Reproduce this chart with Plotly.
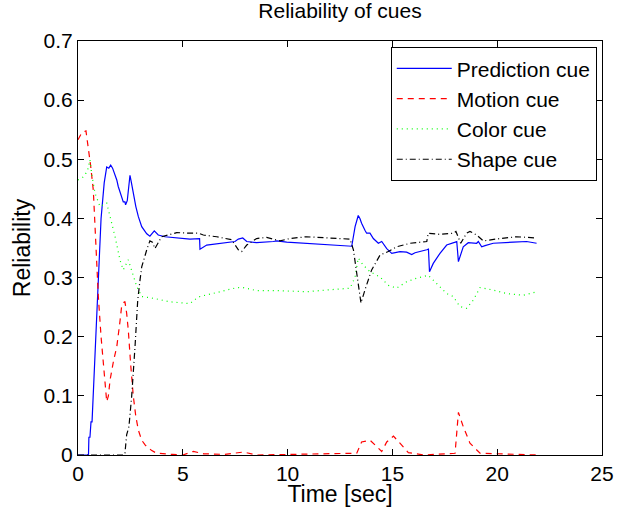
import plotly.graph_objects as go

# Prediction cue
pred_t = [0, 0.5, 0.52, 0.57, 0.62, 0.67, 0.75, 0.95, 1.1, 1.25, 1.37, 1.47, 1.56, 1.65, 1.75, 1.85, 1.92, 2.0, 2.08, 2.16, 2.24, 2.27, 2.35, 2.43, 2.48, 2.55, 2.64, 2.76, 2.88, 3.04, 3.28, 3.43, 3.64, 3.83, 4.15, 4.63, 5.34, 5.8, 5.82, 6.14, 6.77, 7.49, 7.65, 7.86, 8.05, 8.52, 9.32, 9.48, 9.96, 10.9, 11.39, 13.06, 13.22, 13.37, 13.45, 13.53, 13.69, 13.77, 13.93, 14.09, 14.33, 14.49, 14.73, 14.97, 15.36, 15.68, 15.92, 16.08, 16.64, 16.72, 16.77, 16.95, 17.27, 17.59, 18.0, 18.07, 18.15, 18.38, 18.62, 19.02, 19.1, 19.26, 19.42, 19.81, 20.77, 21.4, 21.88]
pred_v = [0, 0, 0.03, 0.03, 0.056, 0.056, 0.12, 0.29, 0.40, 0.46, 0.487, 0.485, 0.49, 0.485, 0.475, 0.465, 0.454, 0.445, 0.434, 0.428, 0.428, 0.423, 0.43, 0.455, 0.473, 0.46, 0.442, 0.42, 0.403, 0.386, 0.374, 0.370, 0.379, 0.372, 0.369, 0.367, 0.365, 0.366, 0.348, 0.355, 0.358, 0.361, 0.365, 0.367, 0.361, 0.359, 0.361, 0.362, 0.360, 0.358, 0.356, 0.353, 0.386, 0.405, 0.400, 0.392, 0.380, 0.375, 0.375, 0.366, 0.358, 0.361, 0.349, 0.341, 0.344, 0.343, 0.339, 0.342, 0.347, 0.348, 0.310, 0.324, 0.341, 0.355, 0.360, 0.361, 0.327, 0.352, 0.359, 0.358, 0.361, 0.352, 0.354, 0.358, 0.360, 0.361, 0.358]

# Motion cue
motion_t = [0, 0.18, 0.38, 0.49, 0.6, 0.73, 0.85, 0.97, 1.1, 1.21, 1.3, 1.37, 1.45, 1.53, 1.7, 1.85, 2.0, 2.08, 2.21, 2.24, 2.32, 2.40, 2.52, 2.64, 2.76, 2.88, 3.04, 3.2, 3.5, 3.75, 4.5, 5.0, 5.5, 6.0, 7.0, 7.9, 8.5, 13.3, 13.53, 13.93, 14.2, 14.49, 14.73, 15.05, 15.36, 15.76, 16.5, 17.99, 18.15, 18.38, 18.7, 19.18, 21.9]
motion_v = [0.533, 0.545, 0.548, 0.521, 0.49, 0.448, 0.36, 0.268, 0.2, 0.155, 0.11, 0.09, 0.10, 0.127, 0.16, 0.183, 0.225, 0.251, 0.259, 0.259, 0.24, 0.211, 0.15, 0.099, 0.065, 0.042, 0.025, 0.017, 0.008, 0.003, 0.001, 0.0, 0.006, 0.002, 0.001, 0.005, 0.0, 0.003, 0.022, 0.025, 0.016, 0.006, 0.022, 0.032, 0.020, 0.004, 0.0, 0.003, 0.072, 0.048, 0.020, 0.003, 0.0]

# Color cue
color_t = [0, 0.25, 0.45, 0.57, 0.65, 0.81, 1.05, 1.37, 1.53, 1.77, 2.0, 2.16, 2.40, 2.56, 2.80, 3.04, 3.59, 4.39, 5.34, 5.66, 5.82, 6.77, 7.57, 7.89, 8.52, 9.48, 10.9, 11.87, 12.98, 13.22, 13.37, 13.61, 13.93, 14.41, 14.8, 15.2, 15.68, 16.16, 16.71, 17.11, 17.59, 17.9, 18.22, 18.54, 18.86, 19.18, 19.81, 20.45, 21.24, 21.88]
color_v = [0.465, 0.47, 0.48, 0.499, 0.476, 0.443, 0.42, 0.426, 0.403, 0.369, 0.330, 0.313, 0.330, 0.313, 0.285, 0.268, 0.265, 0.259, 0.256, 0.265, 0.268, 0.276, 0.283, 0.283, 0.278, 0.278, 0.276, 0.279, 0.282, 0.301, 0.333, 0.321, 0.310, 0.301, 0.287, 0.282, 0.293, 0.299, 0.304, 0.290, 0.273, 0.268, 0.251, 0.248, 0.262, 0.283, 0.279, 0.273, 0.270, 0.276]

# Shape cue
shape_t = [0, 2.2, 2.24, 2.32, 2.43, 2.56, 2.72, 2.85, 2.96, 3.04, 3.28, 3.43, 3.55, 3.67, 3.99, 4.71, 5.34, 5.74, 5.98, 6.62, 7.33, 7.65, 7.81, 8.05, 8.52, 9.0, 9.64, 10.1, 10.9, 12.18, 12.98, 13.14, 13.37, 13.5, 13.69, 14.01, 14.41, 14.8, 15.2, 15.84, 16.64, 16.71, 17.27, 17.9, 18.03, 18.26, 18.54, 18.7, 19.02, 19.34, 20.13, 20.93, 21.88]
shape_v = [0, 0, 0.003, 0.034, 0.048, 0.099, 0.183, 0.262, 0.296, 0.318, 0.347, 0.362, 0.36, 0.349, 0.369, 0.376, 0.375, 0.375, 0.372, 0.369, 0.364, 0.347, 0.344, 0.355, 0.366, 0.368, 0.362, 0.366, 0.369, 0.366, 0.365, 0.347, 0.29, 0.257, 0.279, 0.313, 0.338, 0.344, 0.352, 0.358, 0.361, 0.375, 0.373, 0.375, 0.378, 0.358, 0.375, 0.378, 0.372, 0.362, 0.366, 0.369, 0.367]

x_ticks = [0, 5, 10, 15, 20, 25]
y_ticks = [0, 0.1, 0.2, 0.3, 0.4, 0.5, 0.6, 0.7]

FONT = "Liberation Sans, Arial, Helvetica, sans-serif"

fig = go.Figure()
fig.add_trace(go.Scatter(x=pred_t, y=pred_v, mode="lines", name="Prediction cue",
                         line=dict(color="#0000FF", width=1.2)))
fig.add_trace(go.Scatter(x=motion_t, y=motion_v, mode="lines", name="Motion cue",
                         line=dict(color="#FF0000", width=1.2, dash="6px,5px")))
fig.add_trace(go.Scatter(x=color_t, y=color_v, mode="lines", name="Color cue",
                         line=dict(color="#00FF00", width=1.2, dash="1px,4px")))
fig.add_trace(go.Scatter(x=shape_t, y=shape_v, mode="lines", name="Shape cue",
                         line=dict(color="#000000", width=1.2, dash="6px,3px,1px,3px")))

axis_common = dict(showgrid=False, zeroline=False, showline=True, linecolor="black",
                   linewidth=1, mirror="ticks", ticks="inside", ticklen=6,
                   tickcolor="black", automargin=False,
                   tickfont=dict(size=21, color="black", family=FONT))

fig.update_layout(
    width=628, height=507,
    margin=dict(l=78, r=26, t=41, b=52),
    paper_bgcolor="white", plot_bgcolor="white",
    font=dict(family=FONT, color="black"),
    title=dict(text="Reliability of cues", x=340 / 628, xanchor="center",
               y=1 - 3 / 507, yanchor="top",
               font=dict(size=21, color="black", family=FONT)),
    xaxis=dict(range=[0, 25], tickvals=x_ticks, ticktext=[str(v) for v in x_ticks],
               title=dict(text="Time [sec]", font=dict(size=23), standoff=0), **axis_common),
    yaxis=dict(range=[0, 0.7], tickvals=y_ticks, ticktext=[("%g" % v) for v in y_ticks],
               title=dict(text="Reliability", font=dict(size=23), standoff=6), **axis_common),
    legend=dict(x=0.99, xanchor="right", y=0.985, yanchor="top",
                bgcolor="white", bordercolor="black", borderwidth=1,
                font=dict(size=21, color="black", family=FONT), tracegroupgap=0,
                itemwidth=55),
    showlegend=True,
)

fig.write_html("out.html", config={"displayModeBar": False},
               post_script="document.body.style.margin='0';")
